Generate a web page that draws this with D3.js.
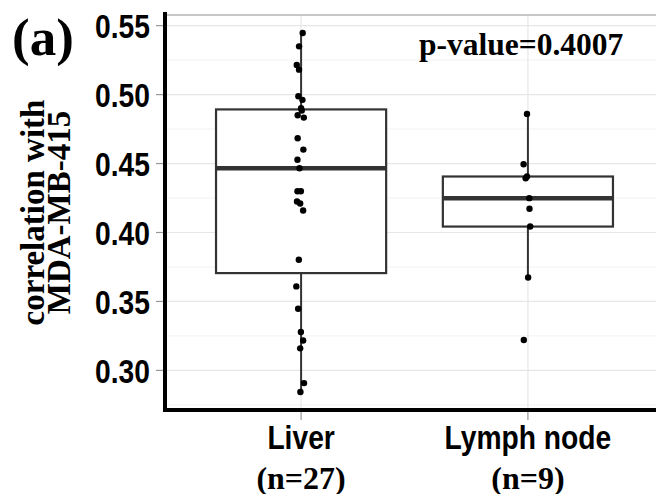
<!DOCTYPE html>
<html>
<head>
<meta charset="utf-8">
<script src="https://cdn.jsdelivr.net/npm/d3@7"></script>
<style>
  html, body { margin: 0; padding: 0; background: #fff; }
  svg { display: block; }
  .sans { font-family: "Liberation Sans", Arial, Helvetica, sans-serif; font-weight: bold; }
  .serif { font-family: "Liberation Serif", "Times New Roman", Times, serif; font-weight: bold; }
</style>
</head>
<body>
<script>
// Tissue groups and sample counts
const categories = ["Liver", "Lymph node"];
const counts = [27, 9];

// Correlation of each sample with MDA-MB-415
const liverValues = [0.5447, 0.535, 0.5215, 0.5181, 0.4988, 0.4962, 0.4901, 0.4884, 0.485,
  0.4833, 0.4683, 0.4601, 0.4527, 0.4466, 0.4299, 0.4299, 0.4225, 0.421, 0.416,
  0.3802, 0.3609, 0.3447, 0.3278, 0.3217, 0.316, 0.2908, 0.2843];
const lymphValues = [0.486, 0.4495, 0.4406, 0.4393, 0.4249, 0.4172, 0.4043, 0.3674, 0.322];

// Horizontal jitter of each point, in category units
const liverJitter = [0.007, -0.009, -0.019, -0.009, -0.012, 0.006, 0.0, 0.003, -0.015,
  0.012, -0.015, 0.010, -0.016, -0.007, -0.016, -0.001, -0.018, -0.004, 0.009,
  -0.010, -0.021, -0.013, -0.001, 0.009, -0.004, 0.013, -0.003];
const lymphJitter = [-0.004, -0.019, -0.004, -0.010, 0.006, 0.007, 0.010, 0.001, -0.018];

const yTicks = [0.30, 0.35, 0.40, 0.45, 0.50, 0.55];
const yMinor = [0.275, 0.325, 0.375, 0.425, 0.475, 0.525];
const pValueLabel = "p-value=0.4007";

const groups = [
  { name: categories[0], n: counts[0], values: liverValues, jitter: liverJitter },
  { name: categories[1], n: counts[1], values: lymphValues, jitter: lymphJitter }
];

const W = 656, H = 494;
const panel = { left: 165, right: 664, top: 15, bottom: 410 };
const narrow = 0.83;   // horizontal squeeze for the condensed axis text

const svg = d3.select("body").append("svg")
  .attr("width", W).attr("height", H)
  .attr("viewBox", `0 0 ${W} ${H}`);

const allValues = liverValues.concat(lymphValues);
const [vmin, vmax] = d3.extent(allValues);
const pad = (vmax - vmin) * 0.05;

const y = d3.scaleLinear()
  .domain([vmin - pad, vmax + pad])
  .range([panel.bottom, panel.top]);

const x = d3.scalePoint()
  .domain(categories)
  .range([panel.left, panel.right])
  .padding(0.6);
const step = x.step();
const boxW = step * 0.75;

// Panel grid
const grid = svg.append("g");
grid.selectAll("line.minor").data(yMinor.filter(v => y(v) <= panel.bottom && y(v) >= panel.top))
  .join("line")
  .attr("x1", panel.left).attr("x2", panel.right)
  .attr("y1", d => y(d)).attr("y2", d => y(d))
  .attr("stroke", "#f2f2f2").attr("stroke-width", 1);
grid.selectAll("line.major").data(yTicks)
  .join("line")
  .attr("x1", panel.left).attr("x2", panel.right)
  .attr("y1", d => y(d)).attr("y2", d => y(d))
  .attr("stroke", "#e6e6e6").attr("stroke-width", 1.2);
grid.selectAll("line.vx").data(categories)
  .join("line")
  .attr("x1", d => x(d)).attr("x2", d => x(d))
  .attr("y1", panel.top).attr("y2", panel.bottom)
  .attr("stroke", "#e6e6e6").attr("stroke-width", 1.2);

// Panel border (top edge visible)
svg.append("line")
  .attr("x1", panel.left).attr("x2", panel.right)
  .attr("y1", panel.top).attr("y2", panel.top)
  .attr("stroke", "#b5b5b5").attr("stroke-width", 1.3);

// Boxplots
groups.forEach(g => {
  const s = g.values.slice().sort(d3.ascending);
  const q1 = d3.quantile(s, 0.25), med = d3.quantile(s, 0.5), q3 = d3.quantile(s, 0.75);
  const iqr = q3 - q1;
  const lo = d3.min(s.filter(v => v >= q1 - 1.5 * iqr));
  const hi = d3.max(s.filter(v => v <= q3 + 1.5 * iqr));
  const cx = x(g.name);
  const bg = svg.append("g");
  bg.append("line")
    .attr("x1", cx).attr("x2", cx).attr("y1", y(hi)).attr("y2", y(q3))
    .attr("stroke", "#333").attr("stroke-width", 2);
  bg.append("line")
    .attr("x1", cx).attr("x2", cx).attr("y1", y(q1)).attr("y2", y(lo))
    .attr("stroke", "#333").attr("stroke-width", 2);
  bg.append("rect")
    .attr("x", cx - boxW / 2).attr("width", boxW)
    .attr("y", y(q3)).attr("height", y(q1) - y(q3))
    .attr("fill", "#fff").attr("stroke", "#333").attr("stroke-width", 2.2);
  bg.append("line")
    .attr("x1", cx - boxW / 2).attr("x2", cx + boxW / 2)
    .attr("y1", y(med)).attr("y2", y(med))
    .attr("stroke", "#333").attr("stroke-width", 4.5);
});

// Sample points
groups.forEach(g => {
  svg.append("g").selectAll("circle")
    .data(g.values.map((v, i) => ({ v, j: g.jitter[i] })))
    .join("circle")
    .attr("cx", d => x(g.name) + d.j * step)
    .attr("cy", d => y(d.v))
    .attr("r", 3.2)
    .attr("fill", "#000");
});

// Axis lines
svg.append("line")
  .attr("x1", panel.left).attr("x2", panel.left)
  .attr("y1", panel.top - 3).attr("y2", panel.bottom + 2)
  .attr("stroke", "#000").attr("stroke-width", 4);
svg.append("line")
  .attr("x1", panel.left - 2).attr("x2", panel.right)
  .attr("y1", panel.bottom).attr("y2", panel.bottom)
  .attr("stroke", "#000").attr("stroke-width", 4);

// Y axis ticks and labels
const yAxis = svg.append("g");
yAxis.selectAll("line").data(yTicks).join("line")
  .attr("x1", panel.left - 9).attr("x2", panel.left - 2)
  .attr("y1", d => y(d)).attr("y2", d => y(d))
  .attr("stroke", "#999").attr("stroke-width", 1.2);
yAxis.selectAll("g.lab").data(yTicks).join("g")
  .attr("transform", d => `translate(150,${y(d) + 12.5}) scale(${narrow},1)`)
  .append("text")
  .attr("class", "sans")
  .attr("text-anchor", "end")
  .attr("font-size", 34)
  .attr("fill", "#000")
  .text(d3.format(".2f"));

// X axis ticks and labels
const xAxis = svg.append("g");
xAxis.selectAll("line").data(categories).join("line")
  .attr("x1", d => x(d)).attr("x2", d => x(d))
  .attr("y1", panel.bottom + 2).attr("y2", panel.bottom + 10)
  .attr("stroke", "#999").attr("stroke-width", 1.2);
xAxis.selectAll("g.cat").data(groups).join("g")
  .attr("transform", d => `translate(${x(d.name)},449) scale(${narrow},1)`)
  .append("text")
  .attr("class", "sans")
  .attr("text-anchor", "middle")
  .attr("font-size", 34)
  .text(d => d.name);
xAxis.selectAll("text.n").data(groups).join("text")
  .attr("class", "serif")
  .attr("x", d => x(d.name)).attr("y", 488.5)
  .attr("text-anchor", "middle")
  .attr("font-size", 32)
  .text(d => `(n=${d.n})`);

// Y axis title
const yMid = (panel.top + panel.bottom) / 2;
const yTitle = svg.append("text")
  .attr("class", "serif")
  .attr("transform", `translate(44,${yMid}) rotate(-90)`)
  .attr("text-anchor", "middle")
  .attr("font-size", 33);
yTitle.append("tspan").attr("x", 0).attr("y", 0).text("correlation with");
yTitle.append("tspan").attr("x", 0).attr("y", 26).text("MDA-MB-415");

// Panel tag
svg.append("text")
  .attr("class", "serif")
  .attr("x", 12).attr("y", 55)
  .attr("font-size", 53)
  .text("(a)");

// Test result
svg.append("text")
  .attr("class", "serif")
  .attr("x", 419).attr("y", 55)
  .attr("font-size", 31.5)
  .text(pValueLabel);
</script>
</body>
</html>
